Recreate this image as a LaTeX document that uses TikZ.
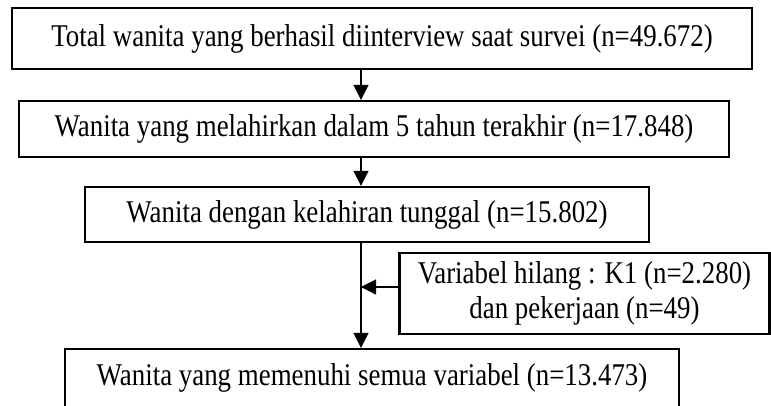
\documentclass[tikz,border=0pt]{standalone}
\usepackage{fontspec}
\setmainfont{Liberation Serif}[FakeStretch=0.85]
\usetikzlibrary{arrows.meta}

\begin{document}
\begin{tikzpicture}[
 box/.style={draw,line width=1.3pt,fill=white,align=center,inner sep=0pt,
 font=\fontsize{18}{19.5}\selectfont},
 arr/.style={-{Triangle[length=3mm,width=3mm]},line width=0.7pt}]
\useasboundingbox (0,0) rectangle (154.2mm,-81mm);
\clip (0,0) rectangle (154.2mm,-81mm);
\coordinate (ax) at (72.2mm,0);
\node[box,minimum width=148mm,minimum height=12.2mm] (total) at (76.4mm,-7.7mm)
 {Total wanita yang berhasil diinterview saat survei (n=49.672)};
\node[box,minimum width=142mm,minimum height=11.2mm] (lahir) at (74.8mm,-25.8mm)
 {Wanita yang melahirkan dalam 5 tahun terakhir (n=17.848)};
\node[box,minimum width=112.8mm,minimum height=11mm] (tunggal) at (73.4mm,-42.9mm)
 {Wanita dengan kelahiran tunggal (n=15.802)};
\node[box,minimum width=74mm,minimum height=16.2mm] (hilang) at (116.9mm,-58.7mm)
 {Variabel hilang : K1 (n=2.280)\\dan pekerjaan (n=49)};
\node[box,minimum width=122.8mm,minimum height=11.6mm] (lengkap) at (74.4mm,-75.6mm)
 {Wanita yang memenuhi semua variabel (n=13.473)};
\draw[arr] (total.south -| ax)--(lahir.north -| ax);
\draw[arr] (lahir.south -| ax)--(tunggal.north -| ax);
\draw[arr] (tunggal.south -| ax)--(lengkap.north -| ax);
\draw[arr] ([yshift=1.3mm]hilang.west)--([yshift=1.3mm]hilang.west -| ax);
\end{tikzpicture}
\end{document}
